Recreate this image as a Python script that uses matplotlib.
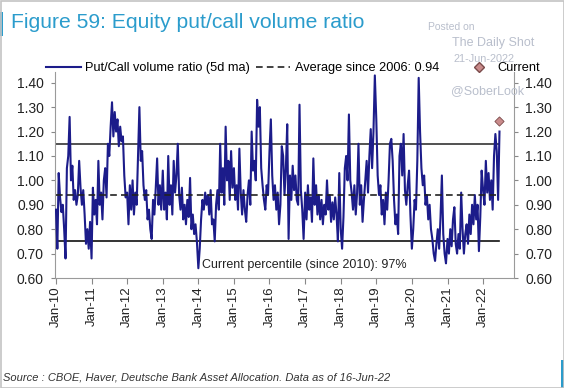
import pandas as pd
import numpy as np
import matplotlib
matplotlib.use("Agg")
import matplotlib.pyplot as plt
import matplotlib.dates as mdates
from matplotlib.lines import Line2D
from matplotlib.patches import Rectangle

# ---------------------------------------------------------------------------
# Data (roughly every two weeks)
# ---------------------------------------------------------------------------
RATIO_2010 = [0.88, 0.72, 1.03, 0.93, 0.87, 0.90, 0.80, 0.68, 1.05, 1.10, 1.26, 1.00, 1.06,
              0.92, 0.96, 0.90, 0.94, 1.08, 0.97, 0.90, 0.96, 0.86, 0.74, 0.80, 0.72, 0.83]
RATIO_2011 = [0.68, 0.97, 0.86, 0.92, 0.82, 1.08, 0.90, 0.95, 0.84, 1.00, 1.05, 0.93, 1.15,
              1.10, 1.22, 1.32, 1.18, 1.28, 1.20, 1.25, 1.14, 1.22, 1.16, 1.18, 1.02, 0.93]
RATIO_2012 = [0.95, 0.82, 0.98, 0.88, 1.00, 0.86, 0.95, 0.90, 1.10, 1.30, 1.08, 1.12, 0.98,
              0.92, 0.96, 0.84, 0.88, 0.80, 0.76, 0.92, 0.86, 0.97, 1.09, 0.90, 0.98, 0.88]
RATIO_2013 = [1.04, 0.88, 0.95, 0.84, 1.10, 0.90, 0.98, 0.86, 1.08, 0.95, 1.02, 1.15, 0.94,
              0.88, 0.97, 0.84, 0.90, 0.82, 0.92, 0.85, 1.01, 0.80, 0.86, 0.78, 0.82, 0.75]
RATIO_2014 = [0.64, 0.72, 0.84, 0.92, 0.88, 0.95, 0.90, 0.94, 0.86, 0.96, 0.82, 0.84, 0.75,
              0.90, 0.96, 0.88, 1.15, 0.95, 1.05, 0.90, 1.22, 1.00, 1.08, 0.92, 1.12, 0.97]
RATIO_2015 = [1.05, 0.92, 0.98, 0.88, 1.13, 0.95, 0.86, 0.96, 0.88, 0.83, 0.94, 1.00, 0.90,
              1.20, 1.04, 1.08, 1.00, 1.33, 1.22, 1.30, 1.05, 0.98, 0.92, 0.88, 0.98, 0.94]
RATIO_2016 = [1.12, 1.25, 1.02, 0.92, 0.98, 0.88, 0.95, 0.82, 0.90, 1.14, 1.10, 0.94, 1.05,
              1.23, 0.76, 1.02, 0.92, 1.06, 0.96, 1.02, 0.92, 0.90, 1.31, 0.96, 0.88, 0.76]
RATIO_2017 = [0.95, 0.84, 0.98, 0.88, 0.93, 0.83, 1.09, 0.90, 0.98, 0.86, 0.94, 0.84, 0.92,
              0.82, 0.90, 0.86, 1.00, 0.88, 0.94, 0.83, 0.91, 0.84, 0.93, 0.86, 0.75, 1.03]
RATIO_2018 = [0.80, 0.72, 0.85, 1.05, 1.10, 1.00, 1.27, 1.00, 0.95, 0.88, 0.98, 0.86, 0.95,
              1.15, 0.90, 0.98, 0.83, 0.92, 1.00, 1.08, 0.95, 1.10, 1.21, 1.05, 1.20, 1.43]
RATIO_2019 = [1.25, 1.02, 0.94, 0.98, 0.86, 0.92, 0.82, 0.95, 0.88, 1.00, 1.15, 1.17, 1.08,
              0.92, 0.82, 0.86, 0.78, 1.10, 1.15, 1.02, 1.19, 0.96, 0.90, 0.98, 1.04, 0.86]
RATIO_2020 = [0.72, 0.80, 0.92, 0.88, 1.08, 1.42, 1.20, 1.05, 0.98, 1.02, 0.90, 0.94, 0.84,
              0.90, 0.80, 0.76, 0.70, 0.67, 0.74, 0.80, 0.72, 0.85, 1.02, 0.78, 0.70, 0.66]
RATIO_2021 = [0.76, 0.70, 0.80, 0.73, 0.84, 0.89, 0.74, 0.70, 0.78, 0.72, 0.95, 0.80, 0.70,
              0.78, 0.82, 0.74, 0.86, 0.78, 0.90, 0.82, 0.94, 0.84, 0.90, 0.71, 0.85, 1.04]
RATIO_2022 = [0.96, 0.90, 1.08, 0.95, 1.03, 0.92, 1.00, 0.88, 1.10, 1.19, 1.12, 0.92, 1.20]

YEARS = list(range(2010, 2023))
YEAR_VALUES = [RATIO_2010, RATIO_2011, RATIO_2012, RATIO_2013, RATIO_2014, RATIO_2015,
               RATIO_2016, RATIO_2017, RATIO_2018, RATIO_2019, RATIO_2020, RATIO_2021,
               RATIO_2022]

AVERAGE = 0.94
UPPER_BAND = 1.15
LOWER_BAND = 0.75
CURRENT = 1.243
CURRENT_DATE = "2022-06-16"
Y_TICKS = [0.60, 0.70, 0.80, 0.90, 1.00, 1.10, 1.20, 1.30, 1.40]

LINE_COLOR = "#1c1c8a"
TITLE_COLOR = "#2b9ccc"
MARK_COLOR = "#c98b8b"
WATERMARK = "#b9bfcc"

# ---------------------------------------------------------------------------
# Build series
# ---------------------------------------------------------------------------
parts = []
for year, vals in zip(YEARS, YEAR_VALUES):
    idx = pd.date_range(f"{year}-01-01", periods=len(vals), freq="14D")
    parts.append(pd.Series(vals, index=idx))
ratio = pd.concat(parts)

start, end = ratio.index[0], ratio.index[-1]

# ---------------------------------------------------------------------------
# Plot
# ---------------------------------------------------------------------------
plt.rcParams["font.family"] = ["Liberation Sans", "DejaVu Sans"]

fig = plt.figure(figsize=(5.64, 3.88), dpi=100)
ax = fig.add_axes([55 / 564, 1 - 278 / 388, (514 - 55) / 564, (278 - 72) / 388])

ax.plot([start, end], [UPPER_BAND, UPPER_BAND], color="#333333", linewidth=1.2, zorder=2)
ax.plot([start, end], [LOWER_BAND, LOWER_BAND], color="#111111", linewidth=1.2, zorder=2)
ax.plot([start, end], [AVERAGE, AVERAGE], color="#222222", linewidth=1.2,
        linestyle=(0, (4, 2.5)), zorder=4)
ax.plot(ratio.index, ratio.values, color=LINE_COLOR, linewidth=1.5, zorder=3)
ax.scatter([pd.Timestamp(CURRENT_DATE)], [CURRENT], marker="D", s=22, color=MARK_COLOR,
           edgecolors="#7a4a4a", linewidths=0.6, zorder=5)

ax.set_xlim(pd.Timestamp("2009-12-22"), pd.Timestamp("2022-11-14"))
ax.set_ylim(0.6, 1.444)
ax.set_yticks(Y_TICKS)
ax.yaxis.set_major_formatter(matplotlib.ticker.FormatStrFormatter("%.2f"))
ax.xaxis.set_major_locator(mdates.YearLocator())
ax.xaxis.set_major_formatter(mdates.DateFormatter("Jan-%y"))
plt.setp(ax.get_xticklabels(), rotation=90)

ax.tick_params(axis="y", which="both", left=True, right=True, labelleft=True,
               labelright=True, direction="out", length=3, color="#888888",
               labelsize=10, labelcolor="#222222", pad=5)
ax.tick_params(axis="x", direction="out", length=4, color="#888888",
               labelsize=9.5, labelcolor="#222222", pad=2)
for side in ["left", "right", "bottom"]:
    ax.spines[side].set_color("#9a9a9a")
    ax.spines[side].set_linewidth(0.8)
ax.spines["top"].set_visible(False)

ax.text(pd.Timestamp("2014-02-12"), 0.655, "Current percentile (since 2010): 97%",
        fontsize=9, color="#222222", va="center")

# legend: two entries on the left, "Current" on its own
handles = [
    Line2D([], [], color=LINE_COLOR, linewidth=1.5),
    Line2D([], [], color="#222222", linewidth=1.2, linestyle=(0, (4, 2.5))),
]
labels = ["Put/Call volume ratio (5d ma)", "Average since 2006: 0.94"]
fig.legend(handles, labels, loc="center left", bbox_to_anchor=(46 / 564, 1 - 68 / 388),
           ncol=2, frameon=False, fontsize=9.2, handlelength=2.7, handletextpad=0.35,
           columnspacing=0.45, borderpad=0, borderaxespad=0)
cur = Line2D([], [], marker="D", color="none", markerfacecolor=MARK_COLOR,
             markeredgecolor="#7a4a4a", markersize=5)
fig.legend([cur], ["Current"], loc="center left", bbox_to_anchor=(467 / 564, 1 - 68 / 388),
           frameon=False, fontsize=9.2, handlelength=1.8, handletextpad=0.6,
           borderpad=0, borderaxespad=0)

# title, accent bars, frame
fig.text(11 / 564, 1 - 23 / 388, "Figure 59: Equity put/call volume ratio",
         fontsize=15.2, color=TITLE_COLOR, va="center", ha="left")
fig.add_artist(Rectangle((0, 1 - 36 / 388), 3 / 564, 24 / 388, transform=fig.transFigure,
                         color=TITLE_COLOR, linewidth=0))
fig.add_artist(Rectangle((561 / 564, 0), 3 / 564, 28 / 388, transform=fig.transFigure,
                         color=TITLE_COLOR, linewidth=0))
fig.add_artist(Rectangle((0.5 / 564, 0.5 / 388), 563 / 564, 387 / 388, transform=fig.transFigure,
                         fill=False, edgecolor="#c4c4c4", linewidth=1.2))

# watermark
fig.text(428 / 564, 1 - 27 / 388, "Posted on", fontsize=7.5, color=WATERMARK, va="center")
fig.text(452 / 564, 1 - 43 / 388, "The Daily Shot", fontsize=9, color=WATERMARK, va="center")
fig.text(453 / 564, 1 - 59 / 388, "21-Jun-2022", fontsize=7.8, color=WATERMARK, va="center")
fig.text(451 / 564, 1 - 91 / 388, "@SoberLook", fontsize=9, color=WATERMARK, va="center")

fig.text(3 / 564, 1 - 377 / 388,
         "Source : CBOE, Haver, Deutsche Bank Asset Allocation. Data as of 16-Jun-22",
         fontsize=8, style="italic", color="#333333", va="center")

fig.savefig("out.png", dpi=100)
